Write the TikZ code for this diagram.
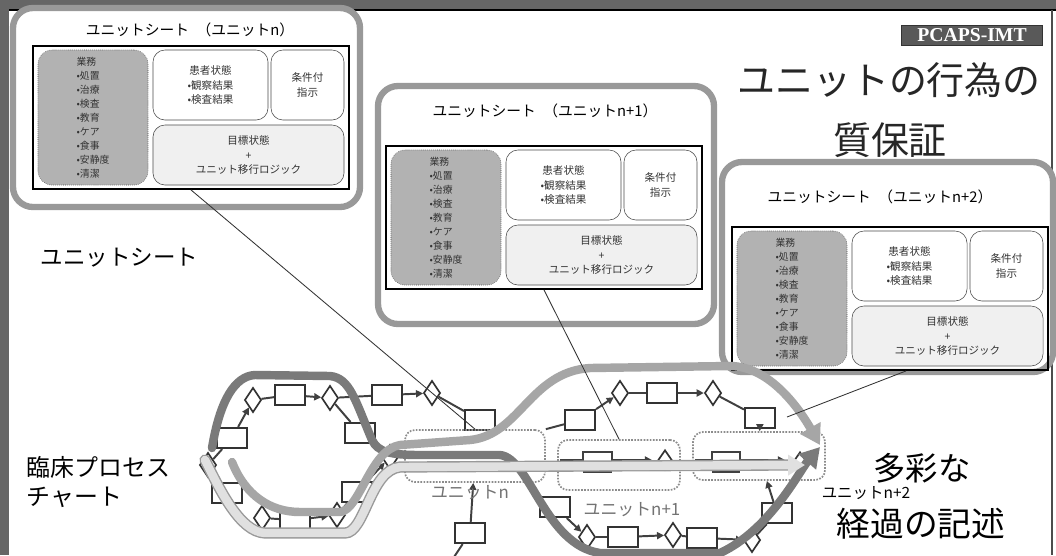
\documentclass[tikz,border=0pt]{standalone}
\usepackage{fontspec}
\setmainfont{Noto Sans CJK JP}
\newfontfamily\latinserif{Liberation Serif}
\usetikzlibrary{positioning,arrows.meta,shapes.geometric}

\begin{document}
\begin{tikzpicture}[x=0.025cm, y=-0.025cm,
  sheetframe/.style={draw=black!40, line width=4.5pt, rounded corners=0.5cm, fill=white},
  innerbox/.style={draw=black, line width=1.3pt, minimum width=7.9cm, minimum height=3.575cm, inner sep=0pt},
  taskbox/.style={draw=black!70, densely dotted, rounded corners=0.35cm, fill=black!30, minimum width=2.75cm, minimum height=3.375cm, align=left, font=\fontsize{7}{10}\selectfont, text=black!80, inner sep=0pt},
  statebox/.style={draw=black!70, rounded corners=0.3cm, fill=white, minimum width=2.875cm, minimum height=1.75cm, align=center, font=\fontsize{7.5}{10}\selectfont, text=black!80, inner sep=0pt},
  orderbox/.style={statebox, minimum width=1.825cm},
  goalbox/.style={statebox, fill=black!6, minimum width=4.775cm, minimum height=1.5cm},
  fbox/.style={draw=black!80, line width=1.5pt, fill=white, minimum width=0.75cm, minimum height=0.5cm, inner sep=0pt},
  fdia/.style={draw=black!80, line width=1.2pt, diamond, fill=white, minimum width=0.42cm, minimum height=0.62cm, inner sep=0pt},
  farr/.style={draw=black!75, line width=1.4pt, -{Triangle[length=5pt,width=5pt]}},
  fline/.style={draw=black!75, line width=1.4pt},
  unitbox/.style={draw=black!45, densely dotted, line width=1.2pt, rounded corners=0.25cm, minimum width=3.5cm, minimum height=1.3cm},
  unitlab/.style={font=\fontsize{12}{14}\selectfont, text=black!55},
  leader/.style={draw=black!80, line width=0.6pt},
  band/.style={line width=6pt, line cap=round},
  bigtext/.style={font=\fontsize{27}{30}\selectfont, text=black!85},
  sidetext/.style={font=\fontsize{16}{18}\selectfont, anchor=west}
]
\clip (0,0) rectangle (1056,555);
\fill[white] (0,0) rectangle (1056,555);
\fill[black!60] (0,0) rectangle (1056,9);
\fill[black!60] (0,0) rectangle (9,555);
\draw[black, line width=0.8pt] (9,10) -- (1056,10);
\draw[black!70, line width=0.8pt] (1052,10) -- (1052,555);

\foreach \n/\ix/\iy/\xa/\ya/\xb/\yb/\tx/\ty/\lab in {1/33/46/13/8/360/207/190/30/n, 2/386/146/378/86/714/324/545/111/n+1, 3/732/227/722/162/1053/372/880/197/n+2}{
  \draw[sheetframe] (\xa,\ya) rectangle (\xb,\yb);
  \node[font=\fontsize{10.5}{12}\selectfont] (t\n) at (\tx,\ty) {ユニットシート\hspace{0.5em}（ユニット\lab）};
  \node[innerbox] (i\n) at (\ix+158,\iy+71.5) {};
  \node[taskbox] (g\n) at (\ix+60,\iy+71.5) {業務\\•処置\\•治療\\•検査\\•教育\\•ケア\\•食事\\•安静度\\•清潔};
  \node[statebox] (s\n) at (\ix+177.5,\iy+39) {患者状態\\•観察結果\\•検査結果};
  \node[orderbox] (o\n) at (\ix+274.5,\iy+39) {条件付\\指示};
  \node[goalbox] (b\n) at (\ix+215.5,\iy+109) {目標状態\\+\\ユニット移行ロジック};
}

\node[fill=black!65, draw=black!80, text=white, font=\latinserif\bfseries\fontsize{14}{16}\selectfont, minimum width=3.525cm, minimum height=0.5cm, inner sep=0pt] (p1) at (972,35) {PCAPS-IMT};
\node[bigtext] (q1) at (889,80) {ユニットの行為の};
\node[bigtext] (q2) at (890,140) {質保証};
\node[sidetext] (k1) at (36,258) {ユニットシート};
\node[sidetext, font=\fontsize{17}{19}\selectfont] (k2) at (22,467) {臨床プロセス};
\node[sidetext, font=\fontsize{17}{19}\selectfont] (k3) at (22,497) {チャート};

\node[fdia] (d1) at (253,400) {};
\node[fbox] (r1) at (290,395) {};
\node[fdia] (d2) at (330,398) {};
\node[fbox] (r2) at (387,395) {};
\node[fdia] (d3) at (432,393) {};
\node[fbox] (r3) at (232,438) {};
\node[fbox] (r4) at (360,433) {};
\node[fdia] (d4) at (208,465) {};
\node[fbox] (r5) at (227,493) {};
\node[fbox] (r6) at (357,492) {};
\node[fdia] (d5) at (390,457) {};
\node[fdia] (d6) at (262,518) {};
\node[fbox] (r7) at (295,520) {};
\node[fdia] (d7) at (337,515) {};
\node[fbox] (r8) at (480,420) {};
\node[fbox] (r9) at (580,420) {};
\node[fdia] (d8) at (620,393) {};
\node[fbox] (r10) at (470,533) {};
\node[fbox] (r11) at (555,507) {};
\node[fdia] (d9) at (587,537) {};
\node[fbox] (r12) at (623,537) {};
\node[fbox] (r13) at (662,393) {};
\node[fdia] (d10) at (713,393) {};
\node[fbox] (r14) at (760,418) {};
\node[fdia] (d11) at (673,535) {};
\node[fbox] (r15) at (702,538) {};
\node[fbox] (r16) at (777,513) {};
\node[fdia] (d12) at (752,540) {};

\node[unitbox] (u1) at (475,456) {};
\node[unitbox, minimum width=3.05cm, minimum height=1.25cm] (u2) at (619,465) {};
\node[unitbox, minimum width=3.3cm, minimum height=1.2cm] (u3) at (759,456) {};
\node[fdia, minimum width=0.35cm, minimum height=0.5cm] (d13) at (665,460) {};
\node[fdia, minimum width=0.35cm, minimum height=0.5cm] (d14) at (800,462) {};
\coordinate (c1) at (452,560);
\coordinate (c3) at (787,417);

\draw[farr] (r3) -- (d1);
\draw[fline] (d1) -- (r1);
\draw[farr] (r1) -- (d2);
\draw[fline] (d2) -- (r2);
\draw[farr] (r2) -- (d3);
\draw[fline] (d2) -- (r4);
\draw[fline] (d4) -- (r3);
\draw[fline] (d4) -- (r5);
\draw[farr] (r6) -- (d5);
\draw[fline] (d6) -- (r7);
\draw[farr] (r7) -- (d7);
\draw[fline] (d7) -- (r6);
\draw[fline] (d3) -- (r8);
\draw[fline] (u1.north east) -- (r9);
\draw[farr] (r9) -- (d8);
\draw[fline] (d8) -- (r13);
\draw[farr] (r13) -- (d10);
\draw[fline] (d10) -- (r14);
\draw[farr] (r14) -- (u3);
\draw[fline] (c1) -- (r10);
\draw[farr] (r10) -- (u1);
\draw[farr] (r11) -- (d9);
\draw[fline] (d9) -- (r12);
\draw[farr] (r12) -- (d11);
\draw[fline] (d11) -- (r15);
\draw[farr] (r15) -- (d12);
\draw[fline] (d12) -- (r16);
\draw[farr] (r16) -- (u3);

\draw[fline, -{Triangle[length=5pt,width=5pt]}] (560,460) -- (583,460) -- (583,452) -- (612,452) -- (612,460) -- (652,460);
\draw[fline] (583,472) -- (612,472);
\draw[fline, -{Triangle[length=5pt,width=5pt]}] (695,460) -- (712,460) -- (712,452) -- (740,452) -- (740,460) -- (785,460);
\draw[fline] (712,472) -- (740,472);

\draw[band, draw=black!52, -{Triangle[length=14pt,width=16pt]}] (212,448) .. controls (220,400) and (235,376) .. (255,375) -- (330,376) .. controls (350,378) and (355,400) .. (372,440) .. controls (378,452) and (390,455) .. (420,455) -- (500,455) .. controls (530,458) and (545,545) .. (600,553) -- (720,553) .. controls (770,530) and (800,470) .. (820,447);
\draw[band, draw=black!35, -{Triangle[length=14pt,width=16pt]}] (232,462) .. controls (245,495) and (270,512) .. (300,512) -- (340,512) .. controls (360,510) and (370,450) .. (400,445) -- (470,440) .. controls (520,435) and (530,372) .. (590,368) -- (730,366) .. controls (770,366) and (800,410) .. (820,445);
\draw[band, line width=8pt, draw=black!40] (205,460) .. controls (220,490) and (240,532) .. (265,533) -- (345,533) .. controls (365,533) and (370,470) .. (400,467) -- (790,465);
\draw[band, draw=black!12, -{Triangle[length=12pt,width=14pt]}] (205,460) .. controls (220,490) and (240,532) .. (265,533) -- (345,533) .. controls (365,533) and (370,470) .. (400,467) -- (805,465);

\node[unitlab] (l1) at (470,493) {ユニットn};
\node[unitlab] (l2) at (632,510) {ユニットn+1};
\node[font=\fontsize{11}{13}\selectfont] (l3) at (866,493) {ユニットn+2};
\node[font=\fontsize{23}{26}\selectfont] (v1) at (922,468) {多彩な};
\node[font=\fontsize{24}{26}\selectfont] (v2) at (921,524) {経過の記述};

\draw[leader] (i1.south) -- (u1.north);
\draw[leader] (i2.south) -- (u2.north);
\draw[leader] ([xshift=0.4cm]i3.south) -- (c3);
\end{tikzpicture}
\end{document}
